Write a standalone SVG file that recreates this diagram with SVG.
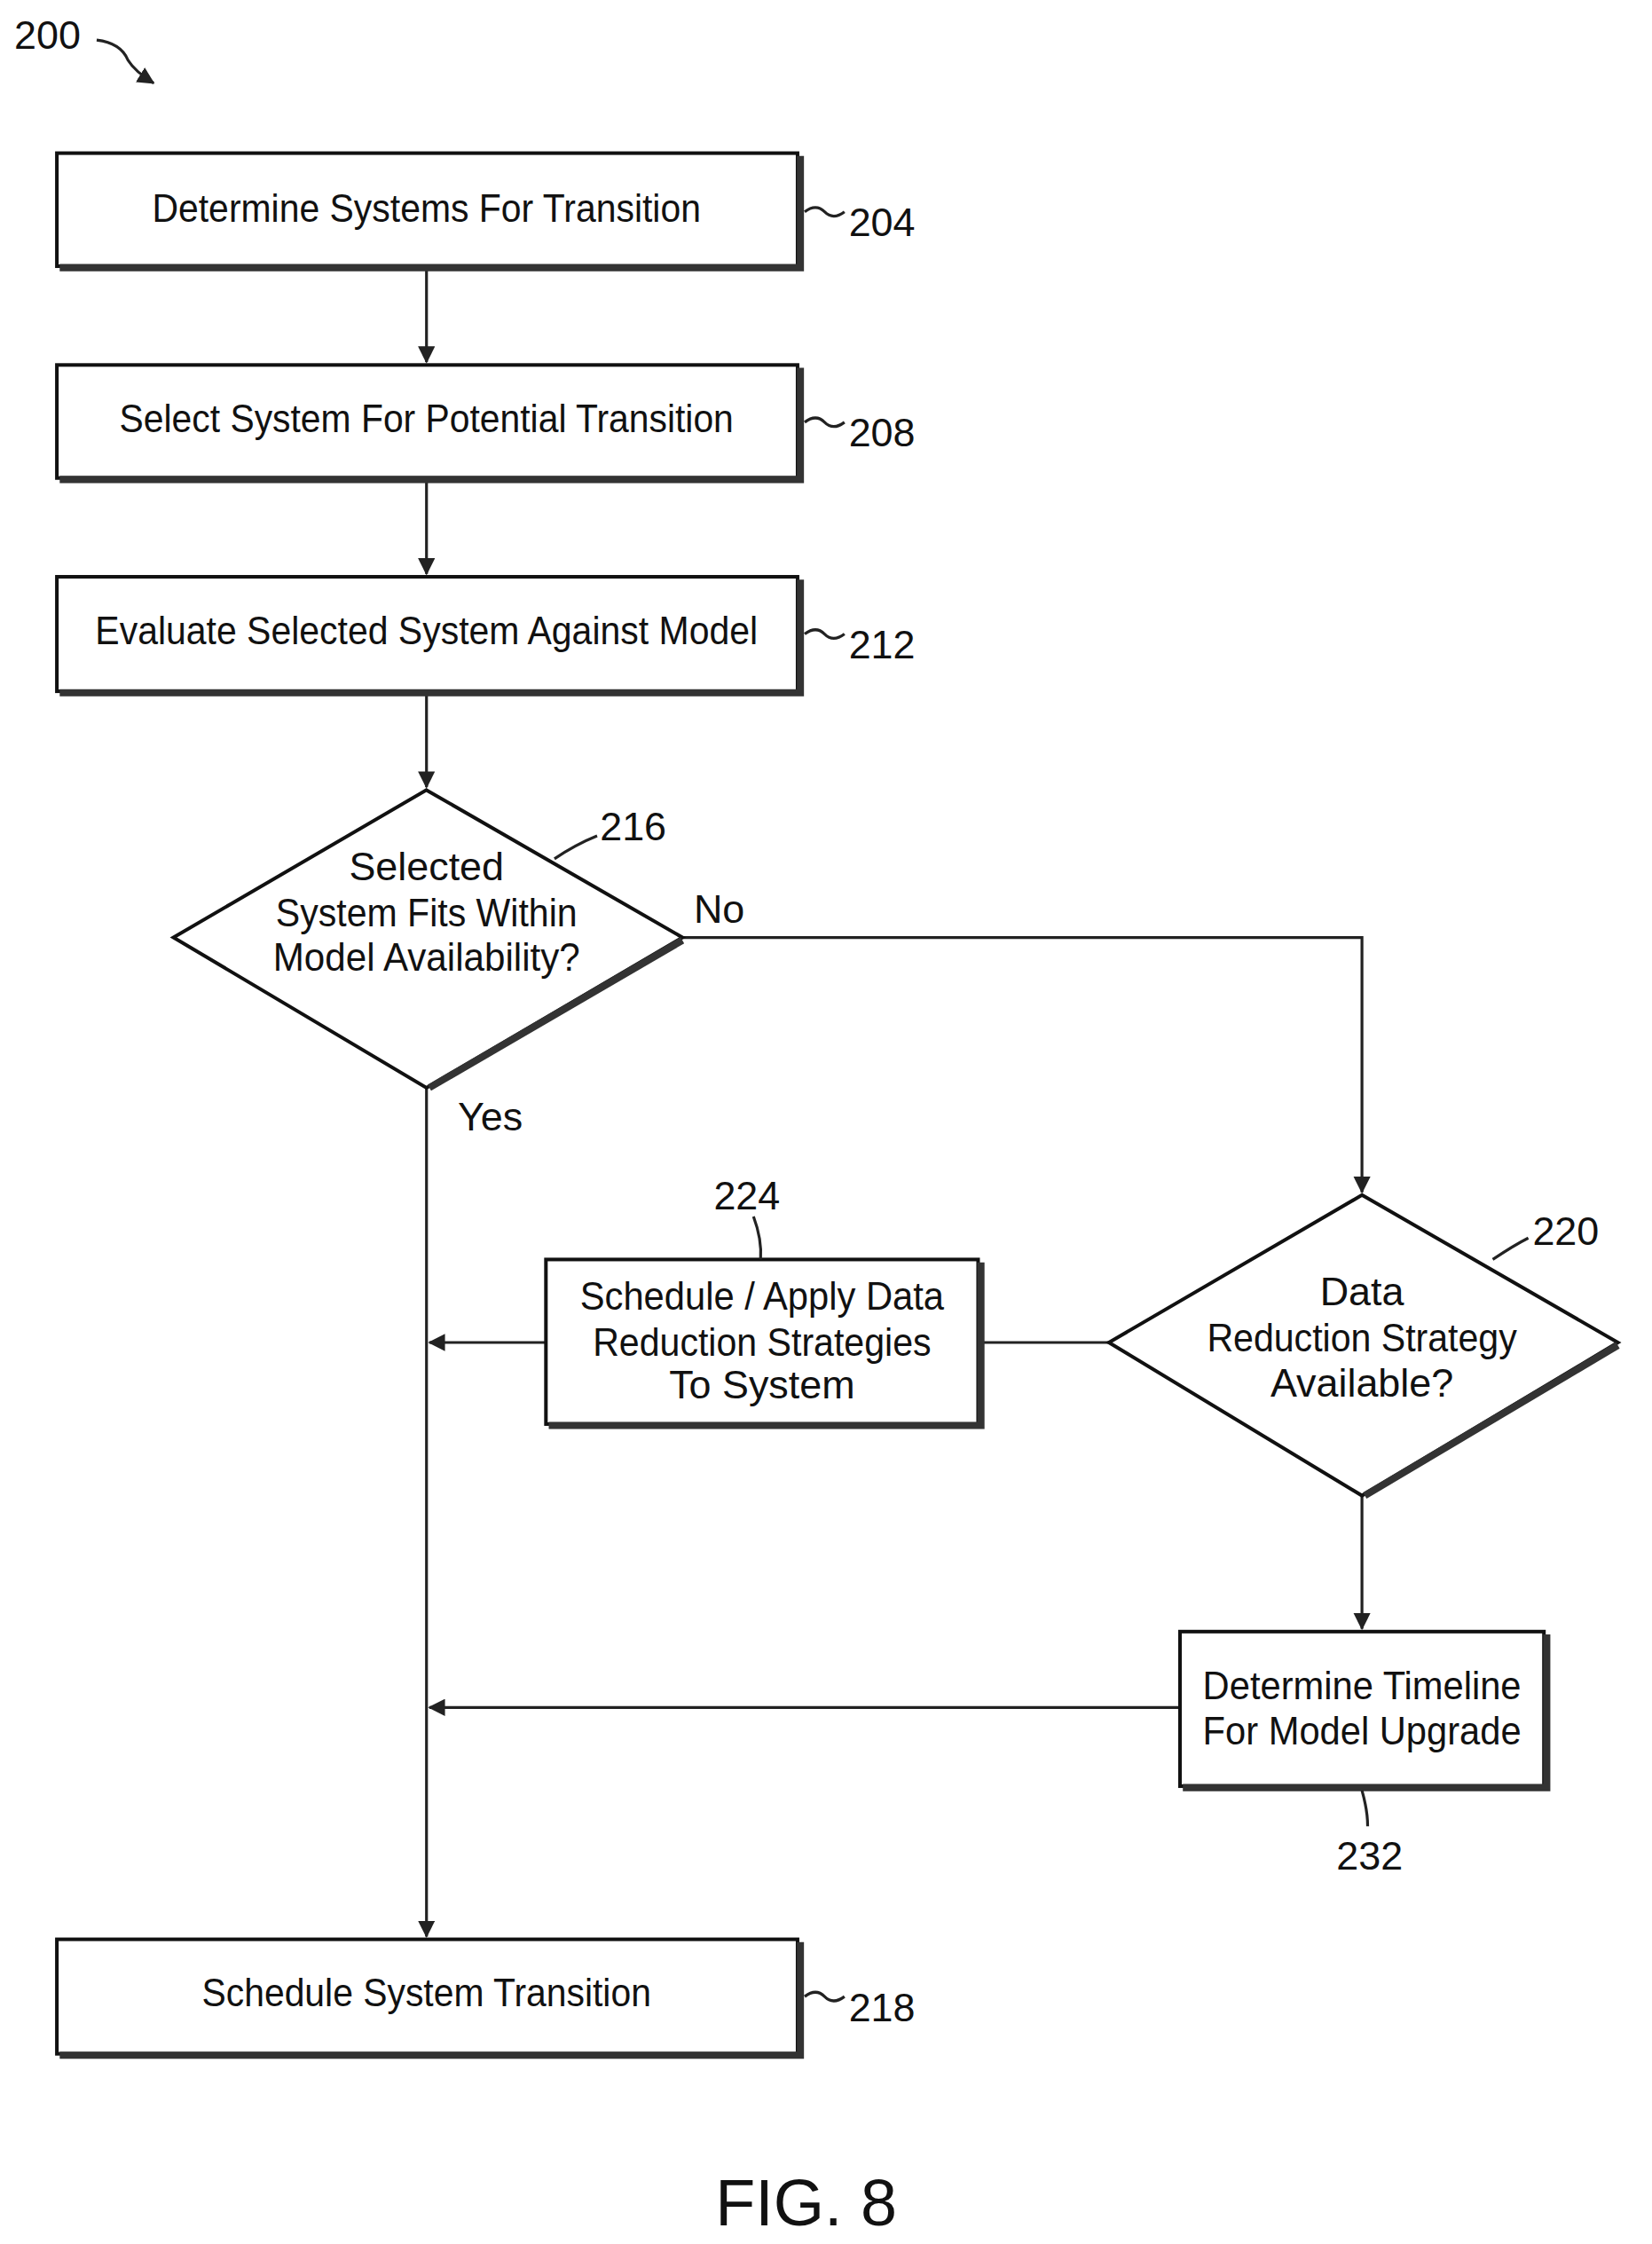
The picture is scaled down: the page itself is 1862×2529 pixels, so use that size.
<svg xmlns="http://www.w3.org/2000/svg" width="1862" height="2529" viewBox="0 0 1862 2529">
<style>
.b{fill:#fff;stroke:#111;stroke-width:2.5}
.s{fill:none;stroke:#333;stroke-width:5}
.l{fill:none;stroke:#222;stroke-width:2}
.t{font-family:"Liberation Sans",Arial,sans-serif;font-size:28px;fill:#111;text-anchor:middle}
.n{font-family:"Liberation Sans",Arial,sans-serif;font-size:28px;fill:#111}
</style>
<defs>
<marker id="a" markerWidth="12" markerHeight="12" refX="11" refY="6" orient="auto" markerUnits="userSpaceOnUse">
<path d="M0,0 L12,6 L0,12 Z" fill="#222"/>
</marker>
</defs>
<rect width="1862" height="2529" fill="#fff"/>
<g transform="scale(1.6024,1.613)">
<g id="connectors">
<path class="l" d="M300,188 V253" marker-end="url(#a)"/>
<path class="l" d="M300,336 V401" marker-end="url(#a)"/>
<path class="l" d="M300,485 V550" marker-end="url(#a)"/>
<path class="l" d="M480,655 H958 V833" marker-end="url(#a)"/>
<path class="l" d="M300,760 V1353" marker-end="url(#a)"/>
<path class="l" d="M780,938 H690"/>
<path class="l" d="M384,938 H302" marker-end="url(#a)"/>
<path class="l" d="M958,1045 V1138" marker-end="url(#a)"/>
<path class="l" d="M830,1193 H302" marker-end="url(#a)"/>
<path class="l" d="M68,28 Q85,30 90,42 Q95,50 108,58" marker-end="url(#a)"/>
</g>
<g id="label200"><text class="n" x="10" y="34">200</text></g>
<g id="n204">
<rect class="b" x="40" y="107" width="521" height="79"/>
<path class="s" d="M42,187 H563 V109"/>
<text class="t" x="300" y="155" textLength="386" lengthAdjust="spacingAndGlyphs">Determine Systems For Transition</text>
<path class="l" d="M566,148 q8,-6 14,0 t14,0"/>
<text class="n" x="597" y="165">204</text>
</g>
<g id="n208">
<rect class="b" x="40" y="255" width="521" height="79"/>
<path class="s" d="M42,335 H563 V257"/>
<text class="t" x="300" y="302" textLength="432" lengthAdjust="spacingAndGlyphs">Select System For Potential Transition</text>
<path class="l" d="M566,295 q8,-6 14,0 t14,0"/>
<text class="n" x="597" y="312">208</text>
</g>
<g id="n212">
<rect class="b" x="40" y="403" width="521" height="80"/>
<path class="s" d="M42,484 H563 V405"/>
<text class="t" x="300" y="450" textLength="466" lengthAdjust="spacingAndGlyphs">Evaluate Selected System Against Model</text>
<path class="l" d="M566,443 q8,-6 14,0 t14,0"/>
<text class="n" x="597" y="460">212</text>
</g>
<g id="n216">
<path class="b" d="M300,552 L480,655 L300,760 L122,655 Z"/>
<path class="s" d="M480,657 L302,760"/>
<text class="t" x="300" y="615">Selected</text>
<text class="t" x="300" y="647" textLength="212" lengthAdjust="spacingAndGlyphs">System Fits Within</text>
<text class="t" x="300" y="678" textLength="216" lengthAdjust="spacingAndGlyphs">Model Availability?</text>
<path class="l" d="M390,600 Q405,590 420,584"/>
<text class="n" x="422" y="587">216</text>
<text class="n" x="488" y="645">No</text>
<text class="n" x="322" y="790">Yes</text>
</g>
<g id="n220">
<path class="b" d="M958,835 L1138,938 L958,1045 L780,938 Z"/>
<path class="s" d="M1138,940 L960,1045"/>
<text class="t" x="958" y="912">Data</text>
<text class="t" x="958" y="944" textLength="218" lengthAdjust="spacingAndGlyphs">Reduction Strategy</text>
<text class="t" x="958" y="976">Available?</text>
<path class="l" d="M1050,880 Q1065,870 1075,865"/>
<text class="n" x="1078" y="870">220</text>
</g>
<g id="n224">
<rect class="b" x="384" y="880" width="304" height="115"/>
<path class="s" d="M386,996 H690 V882"/>
<text class="t" x="536" y="915" textLength="256" lengthAdjust="spacingAndGlyphs">Schedule / Apply Data</text>
<text class="t" x="536" y="947" textLength="238" lengthAdjust="spacingAndGlyphs">Reduction Strategies</text>
<text class="t" x="536" y="977">To System</text>
<path class="l" d="M530,850 Q536,866 535,880"/>
<text class="n" x="502" y="845">224</text>
</g>
<g id="n232">
<rect class="b" x="830" y="1140" width="256" height="108"/>
<path class="s" d="M832,1249 H1088 V1142"/>
<text class="t" x="958" y="1187" textLength="224" lengthAdjust="spacingAndGlyphs">Determine Timeline</text>
<text class="t" x="958" y="1219" textLength="224" lengthAdjust="spacingAndGlyphs">For Model Upgrade</text>
<path class="l" d="M958,1251 Q962,1265 962,1276"/>
<text class="n" x="940" y="1306">232</text>
</g>
<g id="n218">
<rect class="b" x="40" y="1355" width="521" height="80"/>
<path class="s" d="M42,1436 H563 V1357"/>
<text class="t" x="300" y="1402" textLength="316" lengthAdjust="spacingAndGlyphs">Schedule System Transition</text>
<path class="l" d="M566,1395 q8,-6 14,0 t14,0"/>
<text class="n" x="597" y="1412">218</text>
</g>
<g id="caption"><text class="t" x="567" y="1555" style="font-size:46px">FIG. 8</text></g>
</g>
</svg>
